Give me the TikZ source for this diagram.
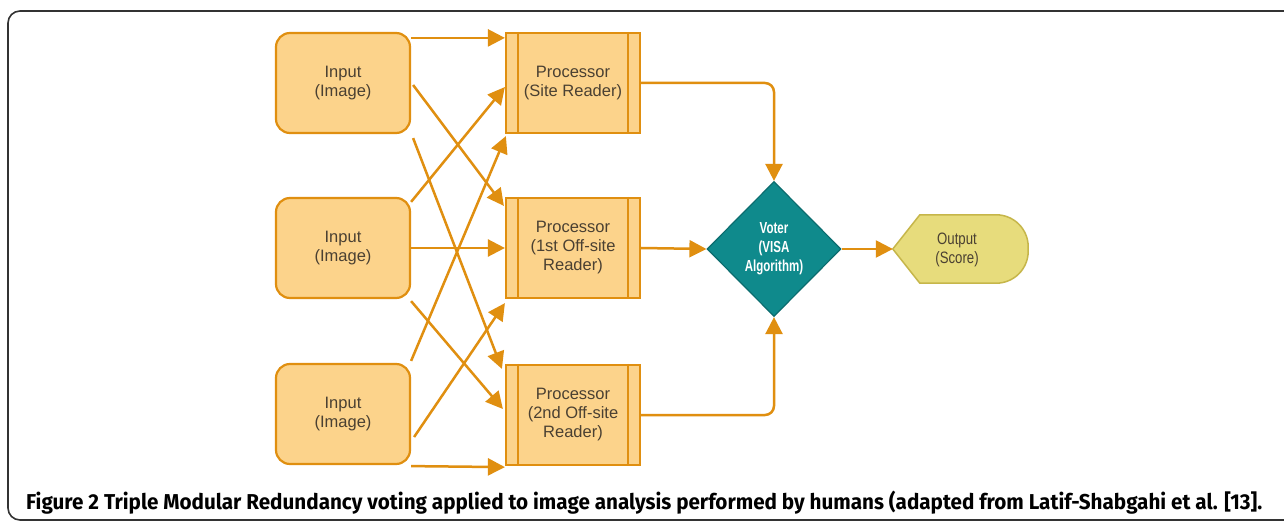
\documentclass[tikz,border=0pt]{standalone}
\usepackage{fontspec}
\usepackage{graphicx}
\setmainfont{Liberation Sans}
\newfontfamily\narrowfont[FakeStretch=0.8]{Liberation Sans}
\newfontfamily\voterfont[FakeStretch=0.72]{Liberation Sans Bold}
\newfontfamily\capfont{Fira Sans}
\usetikzlibrary{shapes.geometric,arrows.meta,calc}
\definecolor{boxfill}{HTML}{FCD38B}
\definecolor{boxline}{HTML}{E08F10}
\definecolor{txt}{HTML}{4A4032}
\definecolor{teal}{HTML}{0F8A8C}
\definecolor{tealdark}{HTML}{0B6C6E}
\definecolor{outfill}{HTML}{E7DC7C}
\definecolor{outline}{HTML}{C6B64A}
\definecolor{frame}{HTML}{333333}
\tikzset{
  inbox/.style={draw=boxline, fill=boxfill, line width=2.2pt, rounded corners=14pt,
    minimum width=134pt, minimum height=100pt, inner sep=0pt, align=center,
    text=txt, font=\fontsize{16.5}{19}\selectfont},
  procbox/.style={draw=boxline, fill=boxfill, line width=2.2pt,
    minimum width=134pt, minimum height=100pt, inner sep=0pt, align=center,
    text=txt, font=\fontsize{16.5}{19}\selectfont},
  voterbox/.style={diamond, aspect=1, draw=tealdark, fill=teal, line width=1.2pt,
    minimum width=134pt, minimum height=135pt, inner sep=0pt, align=center,
    text=white, font=\voterfont\fontsize{16}{19}\selectfont},
  outbox/.style={minimum width=135pt, minimum height=68pt, inner sep=0pt, align=center,
    text=txt, font=\narrowfont\fontsize{16.5}{19}\selectfont},
  conn/.style={draw=boxline, line width=2.5pt, -{Triangle[length=17pt,width=17pt]}},
  innerline/.style={draw=boxline, line width=1.8pt},
}
\begin{document}
\begin{tikzpicture}[x=1pt,y=-1pt]
\clip (0,0) rectangle (1284,521);
\fill[white] (0,0) rectangle (1284,521);
\draw[frame, line width=1.6pt, rounded corners=12pt] (8,11) rectangle (1300,520);

% inputs
\node[inbox] (in1) at (343,83) {Input\\(Image)};
\node[inbox] (in2) at (343,248) {Input\\(Image)};
\node[inbox] (in3) at (343,414) {Input\\(Image)};

% processors
\node[procbox] (p1) at (573,83) {Processor\\(Site Reader)};
\node[procbox] (p2) at (573,248) {Processor\\(1st Off-site\\Reader)};
\node[procbox] (p3) at (573,415) {Processor\\(2nd Off-site\\Reader)};
\foreach \p in {p1,p2,p3}{
  \draw[innerline] ($(\p.north west)+(13,0)$) -- ($(\p.south west)+(13,0)$);
  \draw[innerline] ($(\p.north east)+(-13,0)$) -- ($(\p.south east)+(-13,0)$);
}

% voter
\node[voterbox] (v) at (774,249) {Voter\\(VISA\\Algorithm)};

% output
\node[outbox] (out) at (960.5,249) {};
\draw[draw=outline, fill=outfill, line width=1.5pt]
  (out.west) -- ($(out.north west)+(27,0)$) [rounded corners=32pt] -- (out.north east)
  -- (out.south east) [sharp corners] -- ($(out.south west)+(27,0)$) -- cycle;
\node[outbox] (outtext) at (957,250) {Output\\(Score)};

% input -> processor connectors
\draw[conn] ($(in1.north east)+(0,6)$) -- ($(p1.north west)+(0,6)$);
\draw[conn] ($(in1.east)+(2,2)$) -- ($(p2.north west)+(-1,9)$);
\draw[conn] ($(in1.south east)+(2,4)$) -- ($(p3.north west)+(-3,5)$);
\draw[conn] ($(in2.north east)+(0,5)$) -- ($(p1.west)+(0,4)$);
\draw[conn] (in2.east) -- (p2.west);
\draw[conn] ($(in2.south east)+(0,2)$) -- ($(p3.west)+(-2,-6)$);
\draw[conn] ($(in3.north east)+(0,-2)$) -- ($(p1.south west)+(1,2)$);
\draw[conn] ($(in3.east)+(3,23)$) -- ($(p2.south west)+(0,4)$);
\draw[conn] ($(in3.south east)+(0,1)$) -- ($(p3.south west)+(0,1)$);

% processor -> voter
\draw[conn, rounded corners=9pt] (p1.east) -| (v.north);
\draw[conn] (p2.east) -- (v.west);
\draw[conn, rounded corners=9pt] (p3.east) -| (v.south);
\draw[conn] (v.east) -- (out.west);

% caption
\node[anchor=base west, inner sep=0pt, font=\capfont\bfseries\fontsize{21.5}{24}\selectfont] (cap) at (26,509)
  {\resizebox{1236pt}{\height}{Figure 2 Triple Modular Redundancy voting applied to image analysis performed by humans (adapted from Latif-Shabgahi et al. [13].}};
\end{tikzpicture}
\end{document}
